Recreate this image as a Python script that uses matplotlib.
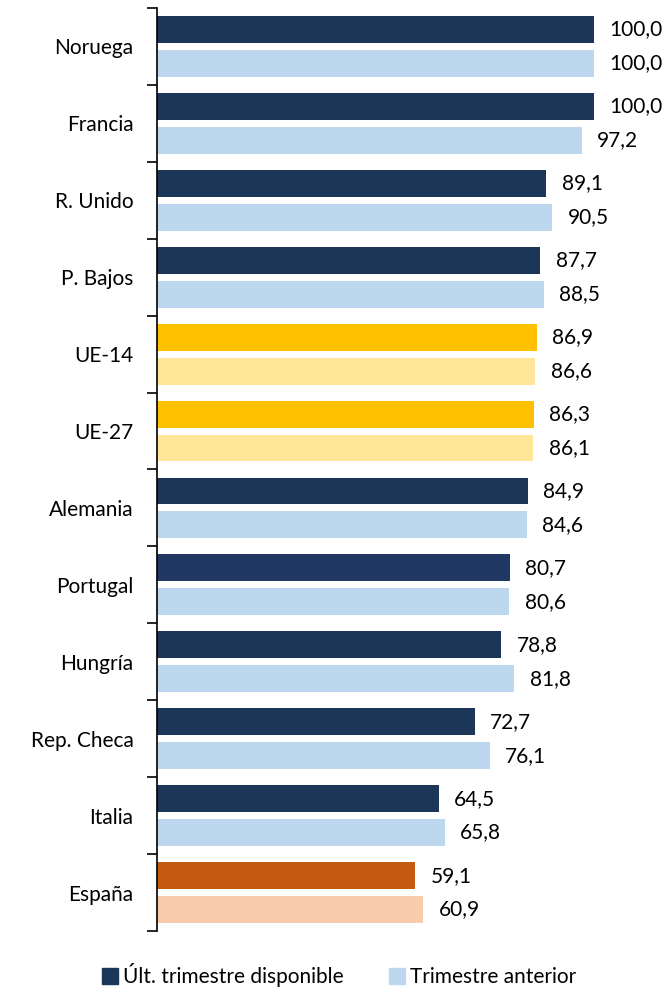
import numpy as np
import matplotlib.pyplot as plt

paises = ['Noruega', 'Francia', 'R. Unido', 'P. Bajos', 'UE-14', 'UE-27', 'Alemania',
          'Portugal', 'Hungría', 'Rep. Checa', 'Italia', 'España']
ultimo = [100.0, 100.0, 89.1, 87.7, 86.9, 86.3, 84.9, 80.7, 78.8, 72.7, 64.5, 59.1]
anterior = [100.0, 97.2, 90.5, 88.5, 86.6, 86.1, 84.6, 80.6, 81.8, 76.1, 65.8, 60.9]

oscuro = {'UE-14': '#FFC000', 'UE-27': '#FFC000', 'España': '#C55A11', 'Portugal': '#213865'}
claro = {'UE-14': '#FFE699', 'UE-27': '#FFE699', 'España': '#F8CBAD'}

plt.rcParams['font.family'] = ['Lato', 'DejaVu Sans']

fig = plt.figure(figsize=(6.67, 9.9), dpi=100)
ax = fig.add_axes([157/667, 1 - 931/990, 437/667, (931 - 8)/990])

y = np.arange(len(paises))
c1 = [oscuro.get(p, '#1B3656') for p in paises]
c2 = [claro.get(p, '#BDD7EE') for p in paises]
ax.barh(y - 0.22, ultimo, height=0.35, color=c1)
ax.barh(y + 0.22, anterior, height=0.35, color=c2)

for i in range(len(paises)):
    ax.text(ultimo[i] + 3.5, y[i] - 0.22, f'{ultimo[i]:.1f}'.replace('.', ','),
            va='center', ha='left', fontsize=15)
    ax.text(anterior[i] + 3.5, y[i] + 0.22, f'{anterior[i]:.1f}'.replace('.', ','),
            va='center', ha='left', fontsize=15)

ax.set_xlim(0, 100)
ax.set_ylim(len(paises) - 0.5, -0.5)
ax.set_yticks(np.arange(-0.5, len(paises)), labels=[])
ax.tick_params(axis='y', which='major', length=7, width=1.2, direction='out')
ax.set_yticks(y, labels=paises, minor=True)
ax.tick_params(axis='y', which='minor', length=0, pad=17, labelsize=15)
ax.set_xticks([])
for s in ['top', 'right', 'bottom']:
    ax.spines[s].set_visible(False)
ax.spines['left'].set_linewidth(1.2)

h1 = plt.Line2D([], [], marker='s', color='#1B3656', linestyle='', markersize=11)
h2 = plt.Line2D([], [], marker='s', color='#BDD7EE', linestyle='', markersize=11)
fig.legend([h1, h2], ['Últ. trimestre disponible', 'Trimestre anterior'],
           loc='center', bbox_to_anchor=(0.505, 1 - 975/990), ncol=2, frameon=False,
           fontsize=15, handletextpad=0.0, columnspacing=2.0, handlelength=1.2)

fig.savefig('out.png', dpi=100)
